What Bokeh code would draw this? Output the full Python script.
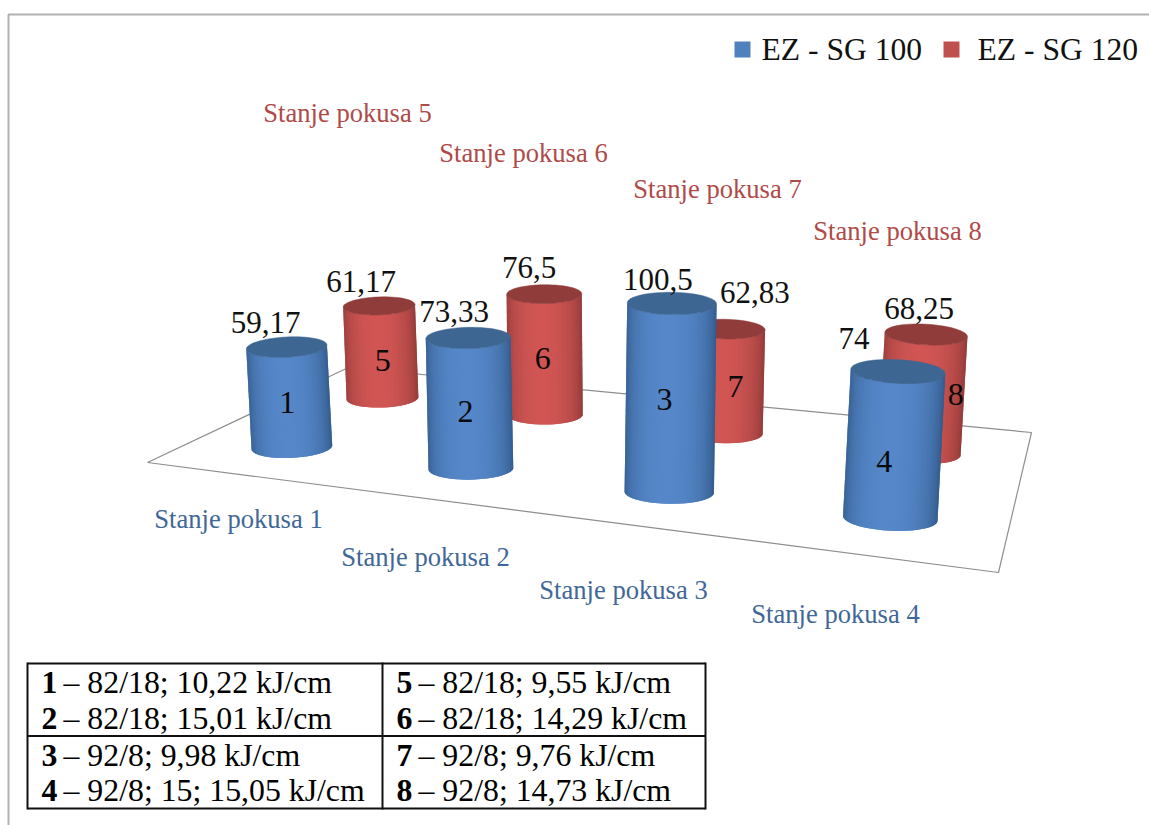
import math
from bokeh.plotting import figure
from bokeh.models import Range1d
from bokeh.core.properties import value
from bokeh.embed import file_html
from bokeh.resources import INLINE

# ---- data ----
series_names = ["EZ - SG 100", "EZ - SG 120"]
sg100 = [59.17, 73.33, 100.5, 74]
sg120 = [61.17, 76.5, 62.83, 68.25]
sg100_labels = ["59,17", "73,33", "100,5", "74"]
sg120_labels = ["61,17", "76,5", "62,83", "68,25"]
sg100_ids = ["1", "2", "3", "4"]
sg120_ids = ["5", "6", "7", "8"]
cat_100 = ["Stanje pokusa 1", "Stanje pokusa 2", "Stanje pokusa 3", "Stanje pokusa 4"]
cat_120 = ["Stanje pokusa 5", "Stanje pokusa 6", "Stanje pokusa 7", "Stanje pokusa 8"]
table_ids = [["1", "2", "3", "4"], ["5", "6", "7", "8"]]
table_text = [
    ["– 82/18; 10,22 kJ/cm", "– 82/18; 15,01 kJ/cm", "– 92/8; 9,98 kJ/cm", "– 92/8; 15; 15,05 kJ/cm"],
    ["– 82/18; 9,55 kJ/cm", "– 82/18; 14,29 kJ/cm", "– 92/8; 9,76 kJ/cm", "– 92/8; 14,73 kJ/cm"],
]

# ---- layout ----
W, H = 1149, 825
SERIF = value("Liberation Serif")
floor = [(147, 462), (998, 572), (1031, 432), (348, 367)]  # front-left, front-right, back-right, back-left
BLUE = ((50, 90, 138), (86, 136, 202), "#3d6693", "#4f81bd")
RED = ((143, 58, 56), (209, 86, 84), "#8f3c3a", "#c0504d")

(x0, y0), (x1, y1), (x2, y2), (x3, y3) = floor
sx, sy = x0 - x1 + x2 - x3, y0 - y1 + y2 - y3
dx1, dx2, dy1, dy2 = x1 - x2, x3 - x2, y1 - y2, y3 - y2
den = dx1 * dy2 - dx2 * dy1
g = (sx * dy2 - dx2 * sy) / den
h_ = (dx1 * sy - sx * dy1) / den
a, b, c = x1 - x0 + g * x1, x3 - x0 + h_ * x3, x0
d, e, f = y1 - y0 + g * y1, y3 - y0 + h_ * y3, y0


def project(u, v):
    w = g * u + h_ * v + 1
    return (a * u + b * v + c) / w, (d * u + e * v + f) / w, w


p = figure(width=W, height=H, x_range=Range1d(0, W), y_range=Range1d(H, 0),
           toolbar_location=None, output_backend="svg", min_border=0,
           outline_line_color=None, background_fill_color="white", border_fill_color="white")
p.axis.visible = False
p.grid.visible = False

# frame of the picture
p.line([8, 8, 1149], [825, 14, 14], line_color="#b2b2b2", line_width=2)

# floor
cs = [project(0, 0), project(1, 0), project(1, 1), project(0, 1), project(0, 0)]
p.line([q[0] for q in cs], [q[1] for q in cs], line_color="#8e8e8e", line_width=1.2)


def arc(cx, cy, r, ry, tx, n):
    pts = []
    for i in range(n + 1):
        th = math.pi * i / n
        pts.append((cx + r * math.cos(th) - ry * math.sin(th) * tx,
                    cy + r * math.cos(th) * tx + ry * math.sin(th)))
    return pts


def cylinder(i, v, val, pal, shift, dlx, dly, lbl, idx, nx, ny):
    bx, by, w = project((i + 0.5) / 4, v)
    bx += shift
    by += 3
    k = 1.76 / w
    ht = val * k
    r = 23.8 * k
    tx = (bx - 590) / 5700
    tcx, tcy = bx + tx * ht, by - ht
    n = 40
    top = arc(tcx, tcy, r, r * 0.25, tx, n)
    bot = arc(bx, by, r, r * 0.26, tx, n)
    xs, ys, col = [], [], []
    # arcs run right to left; each strip reaches over the next so no seams show
    for s in range(n):
        m = min(s + 2, n)
        xs.append([top[s][0], top[m][0], bot[m][0], bot[s][0]])
        ys.append([top[s][1], top[m][1], bot[m][1], bot[s][1]])
        th = math.pi * (s + 0.5) / n
        t = math.sin(th) ** 1.1
        col.append("#%02x%02x%02x" % tuple(int(pal[0][j] + (pal[1][j] - pal[0][j]) * t) for j in range(3)))
    p.patches(xs=xs[::-1], ys=ys[::-1], fill_color=col[::-1], line_color=None)
    rim = [(tcx + r * math.cos(2 * math.pi * q / 60) - r * 0.25 * math.sin(2 * math.pi * q / 60) * tx,
            tcy + r * math.cos(2 * math.pi * q / 60) * tx + r * 0.25 * math.sin(2 * math.pi * q / 60)) for q in range(60)]
    p.patch([q[0] for q in rim], [q[1] for q in rim], fill_color=pal[2], line_color=pal[2], line_width=0.5)
    p.text([tcx + dlx], [tcy + dly], text=[lbl], text_font=SERIF, text_font_size="31px",
           text_align="center", text_baseline="middle", text_color="#111111")
    mx, my = (bx + tcx) / 2, (by + tcy) / 2
    p.text([mx + nx], [my + ny], text=[idx], text_font=SERIF, text_font_size="32px",
           text_align="center", text_baseline="middle", text_color="#0a0a0a")


# label offsets from each top, and number offsets from each middle
back_lbl = [(-18, -24), (-15, -27), (29, -37), (-7, -26)]
front_lbl = [(-21, -25), (-14, -26), (-14, -24), (-44, -33)]
back_num = [(2, 8), (-2, 4), (11, 5), (33, 1)]
front_num = [(-2, 5), (-4, 8), (-6, 2), (-10, 17)]

for i in range(4):
    cylinder(i, 0.75, sg120[i], RED, 0, *back_lbl[i], sg120_labels[i], sg120_ids[i], *back_num[i])
for i in range(4):
    cylinder(i, 0.25, sg100[i], BLUE, 2, *front_lbl[i], sg100_labels[i], sg100_ids[i], *front_num[i])

# category labels
p.text([238, 425, 623, 835], [518, 556, 589, 613], text=cat_100, text_font=SERIF, text_font_size="26.6px",
       text_align="center", text_baseline="middle", text_color="#3f6797")
p.text([347, 523, 717, 897], [112, 152, 188, 230], text=cat_120, text_font=SERIF, text_font_size="26.6px",
       text_align="center", text_baseline="middle", text_color="#b04a48")

# legend
p.quad(left=[734, 943], right=[750, 959], top=[41, 41], bottom=[57, 57], fill_color=[BLUE[3], RED[3]], line_color=None)
p.text([761, 977], [49, 49], text=series_names, text_font=SERIF, text_font_size="31.6px",
       text_baseline="middle", text_align="left", text_color="#111111")

# table
p.segment(x0=[27, 27, 27, 27, 705, 382], y0=[663, 735.5, 808, 662, 662, 662],
          x1=[705, 705, 705, 27, 705, 382], y1=[663, 735.5, 808, 809, 809, 809],
          line_color="#111111", line_width=2)
row_y = [682, 718, 755, 790]
for col_x, ids, txt in zip([41, 396], table_ids, table_text):
    p.text([col_x] * 4, row_y, text=ids, text_font=SERIF, text_font_style="bold", text_font_size="31.8px",
           text_baseline="middle", text_align="left", text_color="#000000")
    p.text([col_x + 22] * 4, row_y, text=txt, text_font=SERIF, text_font_size="31.8px",
           text_baseline="middle", text_align="left", text_color="#000000")

open("out.html", "w").write(file_html(p, INLINE))
